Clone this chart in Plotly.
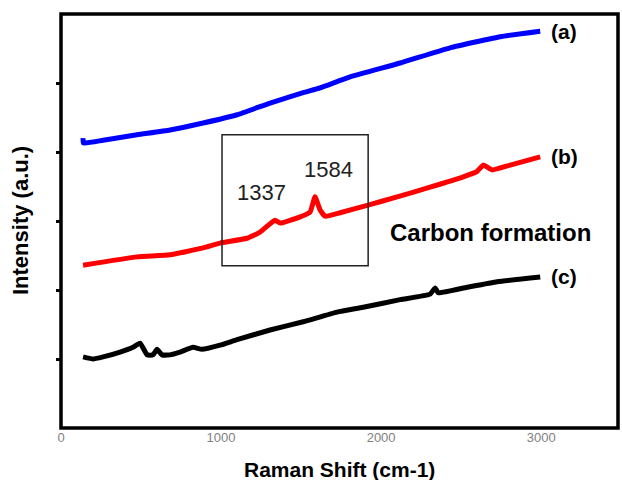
import plotly.graph_objects as go

# Data (Raman shift in cm-1, intensity in arbitrary units)
shift_a = [138, 140, 263, 475, 681, 888, 1100, 1306, 1513, 1619, 1806, 2119, 2431,
           2744, 2994]
int_a = [4.20, 4.13, 4.17, 4.25, 4.32, 4.42, 4.54, 4.71, 4.86, 4.93, 5.09, 5.29, 5.51,
         5.67, 5.75]

shift_b = [138, 475, 681, 888, 994, 1163, 1244, 1337, 1369, 1494, 1556, 1587, 1619,
           1650, 1744, 1919, 2100, 2306, 2513, 2600, 2638, 2694, 2806, 2994]
int_b = [2.36, 2.48, 2.51, 2.61, 2.68, 2.75, 2.84, 3.01, 2.97, 3.06, 3.13, 3.35, 3.16,
         3.07, 3.12, 3.23, 3.35, 3.49, 3.64, 3.72, 3.81, 3.74, 3.81, 3.93]

shift_c = [138, 200, 263, 369, 450, 494, 538, 575, 600, 631, 681, 744, 825, 881, 994,
           1100, 1306, 1513, 1725, 1888, 2119, 2306, 2338, 2356, 2538, 2725, 2994]
int_c = [1.03, 1.00, 1.03, 1.10, 1.17, 1.23, 1.06, 1.06, 1.14, 1.06, 1.06, 1.10, 1.17,
         1.14, 1.20, 1.28, 1.42, 1.54, 1.68, 1.75, 1.86, 1.94, 2.03, 1.96, 2.04, 2.12,
         2.19]

series = [("(a)", shift_a, int_a, "#0000ff"),
          ("(b)", shift_b, int_b, "#ff0000"),
          ("(c)", shift_c, int_c, "#000000")]

x_ticks = [0, 1000, 2000, 3000]
y_ticks = [1, 2, 3, 4, 5]

peak_labels = ["1337", "1584"]
peak_pos = [(1250, 3.42), (1669, 3.74)]

box_x = [1006, 1919]
box_y = [2.35, 4.25]

FONT = "Liberation Sans, Arial, sans-serif"

fig = go.Figure()
for name, xs, ys, col in series:
    fig.add_trace(go.Scatter(x=xs, y=ys, mode="lines", name=name,
                             line=dict(color=col, width=5, shape="spline",
                                       smoothing=0.4),
                             showlegend=False))
    fig.add_annotation(x=xs[-1] + 55, y=ys[-1], text="<b>" + name + "</b>",
                       showarrow=False, xanchor="left", yanchor="middle",
                       font=dict(family=FONT, size=21, color="black"))

for lab, (px, py) in zip(peak_labels, peak_pos):
    fig.add_annotation(x=px, y=py, text=lab, showarrow=False,
                       xanchor="center", yanchor="middle",
                       font=dict(family=FONT, size=22, color="#222222"))

fig.add_annotation(x=2681, y=2.83, text="<b>Carbon formation</b>", showarrow=False,
                   xanchor="center", yanchor="middle",
                   font=dict(family=FONT, size=24, color="black"))

fig.add_shape(type="rect", x0=box_x[0], x1=box_x[1], y0=box_y[0], y1=box_y[1],
              line=dict(color="#222222", width=1.5))

# plot frame
fig.add_shape(type="rect", xref="paper", yref="paper", x0=0, x1=1, y0=0, y1=1,
              line=dict(color="black", width=3.5))

fig.add_annotation(xref="paper", yref="paper", x=0.5, y=-0.101,
                   text="<b>Raman Shift (cm-1)</b>", showarrow=False,
                   xanchor="center", yanchor="middle",
                   font=dict(family=FONT, size=21, color="black"))
fig.add_annotation(xref="paper", yref="paper", x=-0.0736, y=0.5,
                   text="<b>Intensity (a.u.)</b>", showarrow=False, textangle=-90,
                   xanchor="center", yanchor="middle",
                   font=dict(family=FONT, size=22, color="black"))

fig.update_xaxes(range=[0, 3480], tickvals=x_ticks, ticks="", showgrid=False,
                 zeroline=False, showline=False,
                 tickfont=dict(family=FONT, size=13, color="#7f7f7f"))
fig.update_yaxes(range=[0, 6], tickvals=y_ticks, ticks="outside", ticklen=4,
                 tickwidth=3, tickcolor="black", showticklabels=False,
                 showgrid=False, zeroline=False, showline=False)

fig.update_layout(width=622, height=480, paper_bgcolor="white", plot_bgcolor="white",
                  margin=dict(l=61, r=4, t=14, b=52))

fig.write_html("out.html")
